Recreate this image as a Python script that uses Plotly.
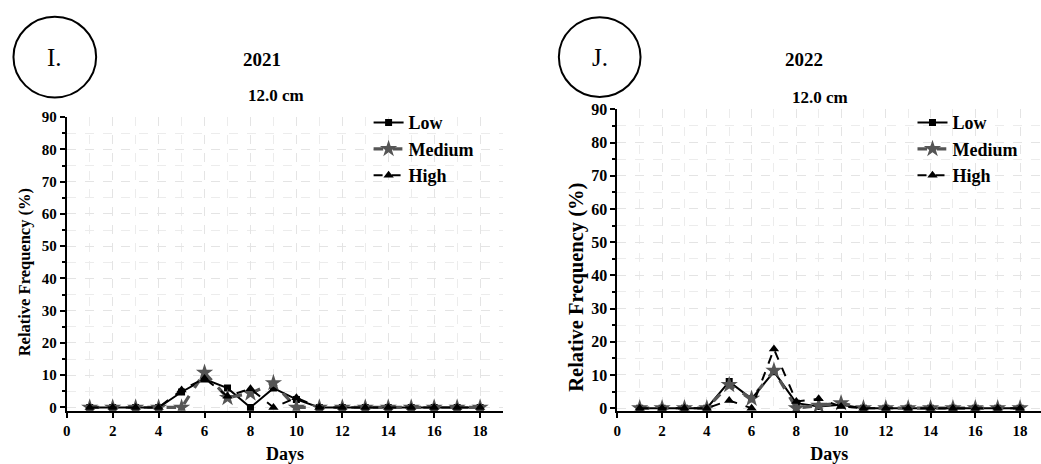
import plotly.graph_objects as go

W, H = 1041, 464

days = list(range(1, 19))

# 2021 (panel I)
low_2021 = [0, 0, 0, 0, 4.8, 8.8, 6.0, 0, 6.0, 2.5, 0, 0, 0, 0, 0, 0, 0, 0]
med_2021 = [0, 0, 0, 0, 0, 10.8, 3.0, 4.4, 7.6, 0, 0, 0, 0, 0, 0, 0, 0, 0]
high_2021 = [0, 0, 0, 0, 5.4, 9.0, 3.5, 5.8, 0, 3.0, 0, 0, 0, 0, 0, 0, 0, 0]

# 2022 (panel J)
low_2022 = [0, 0, 0, 0, 8.0, 2.8, 11.0, 1.5, 0.5, 1.0, 0, 0, 0, 0, 0, 0, 0, 0]
med_2022 = [0, 0, 0, 0, 7.0, 2.9, 11.3, 0, 0.8, 1.5, 0, 0, 0, 0, 0, 0, 0, 0]
high_2022 = [0, 0, 0, 0, 2.3, 0, 17.8, 2.0, 2.8, 0.5, 0, 0, 0, 0, 0, 0, 0, 0]

series_names = ["Low", "Medium", "High"]
panel_titles = ["2021", "2022"]
panel_subtitle = "12.0 cm"
panel_letters = ["I.", "J."]
y_title = "Relative Frequency (%)"
x_ticks = list(range(0, 19, 2))
y_ticks = list(range(0, 91, 10))

SERIF = "Liberation Serif, Times New Roman, serif"


def fx(p):
    return p / W


def fy(p):
    return 1 - p / H


fig = go.Figure()

styles = {
    "Low": dict(line=dict(color="black", width=2, dash="solid"),
                marker=dict(symbol="square", size=7, color="black")),
    "Medium": dict(line=dict(color="#555555", width=3.2, dash="dash"),
                   marker=dict(symbol="star", size=13, color="#555555")),
    "High": dict(line=dict(color="black", width=2, dash="dash"),
                 marker=dict(symbol="triangle-up", size=9, color="black")),
}

panels = [
    ("x", "y", "legend", [low_2021, med_2021, high_2021]),
    ("x2", "y2", "legend2", [low_2022, med_2022, high_2022]),
]
for xa, ya, lg, data in panels:
    for name, vals in zip(series_names, data):
        st = styles[name]
        fig.add_trace(go.Scatter(
            x=days, y=vals, name=name, mode="lines+markers",
            xaxis=xa, yaxis=ya, legend=lg,
            line=st["line"], marker=st["marker"],
        ))

grid_common = dict(showgrid=True, gridcolor="#e4e4e4", griddash="dash", gridwidth=1)


def tf(size):
    return dict(family=SERIF, size=size, color="black", weight="bold")


def xaxis(domain, rng, anchor, tsize):
    return dict(
        domain=domain, range=rng, anchor=anchor,
        tickvals=x_ticks, ticks="outside", ticklen=5, tickwidth=2, tickcolor="black",
        showline=True, linecolor="black", linewidth=2, zeroline=False,
        tickfont=tf(tsize),
        minor=dict(dtick=1, tick0=0, showgrid=True, gridcolor="#ececec", griddash="dash"),
        title=dict(text="Days", font=tf(18), standoff=10),
        **grid_common,
    )


def yaxis(domain, anchor, tsize):
    return dict(
        domain=domain, range=[-1, 90], anchor=anchor,
        tickvals=y_ticks, ticks="outside", ticklen=5, tickwidth=2, tickcolor="black",
        showline=True, linecolor="black", linewidth=2, zeroline=False,
        tickfont=tf(tsize),
        minor=dict(dtick=5, tick0=0, ticks="outside", ticklen=3, tickwidth=1.5, tickcolor="black",
                   showgrid=True, gridcolor="#ececec", griddash="dash"),
        **grid_common,
    )


# left panel geometry (pixels)
L_x0, L_x1 = 63, 501
L_ytop, L_ybot = 112.3, 414.3
# right panel geometry
R_x0 = 615.7
R_px_per_day = 22.46
R_xmax = (W - R_x0) / R_px_per_day
R_ytop, R_ybot = 104.3, 415.1

legend_font = tf(18)

fig.update_layout(
    width=W, height=H,
    margin=dict(l=0, r=0, t=0, b=0),
    paper_bgcolor="white", plot_bgcolor="white",
    xaxis=xaxis([fx(L_x0), fx(L_x1)], [0, 19], "y", 15),
    yaxis=yaxis([fy(L_ybot), fy(L_ytop)], "x", 15),
    xaxis2=xaxis([fx(R_x0), 1.0], [0, R_xmax], "y2", 15),
    yaxis2=yaxis([fy(R_ybot), fy(R_ytop)], "x2", 16),
    legend=dict(x=fx(366), y=fy(99), xanchor="left", yanchor="top",
                bgcolor="rgba(0,0,0,0)", tracegroupgap=0, font=legend_font),
    legend2=dict(x=fx(912), y=fy(99), xanchor="left", yanchor="top",
                 bgcolor="rgba(0,0,0,0)", tracegroupgap=0, font=legend_font),
)

annotations = []
shapes = []
centers = [(259, 53, 273, 90, 51, 50.5, 41.5, 20, 272, 16.5),
           (803, 53, 819, 92, 598, 50.5, 41, 575, 287, 20.5)]
for (tx, ty, sx, sy, cx, cy, r, yx, yy, ysz), title, letter in zip(centers, panel_titles, panel_letters):
    annotations.append(dict(x=fx(tx), y=fy(ty), xref="paper", yref="paper", text=title,
                            showarrow=False, xanchor="center", yanchor="middle", font=tf(19)))
    annotations.append(dict(x=fx(sx), y=fy(sy), xref="paper", yref="paper", text=panel_subtitle,
                            showarrow=False, xanchor="center", yanchor="middle", font=tf(17)))
    annotations.append(dict(x=fx(cx), y=fy(cy), xref="paper", yref="paper", text=letter,
                            showarrow=False, xanchor="center", yanchor="middle",
                            font=dict(family=SERIF, size=25, color="black")))
    annotations.append(dict(x=fx(yx), y=fy(yy), xref="paper", yref="paper", text=y_title,
                            textangle=-90, showarrow=False, xanchor="center", yanchor="middle",
                            font=tf(ysz)))
    shapes.append(dict(type="circle", xref="paper", yref="paper",
                       x0=fx(cx - r), x1=fx(cx + r), y0=fy(cy + r), y1=fy(cy - r),
                       line=dict(color="black", width=2)))

fig.update_layout(annotations=annotations, shapes=shapes)

fig.write_html("out.html")
